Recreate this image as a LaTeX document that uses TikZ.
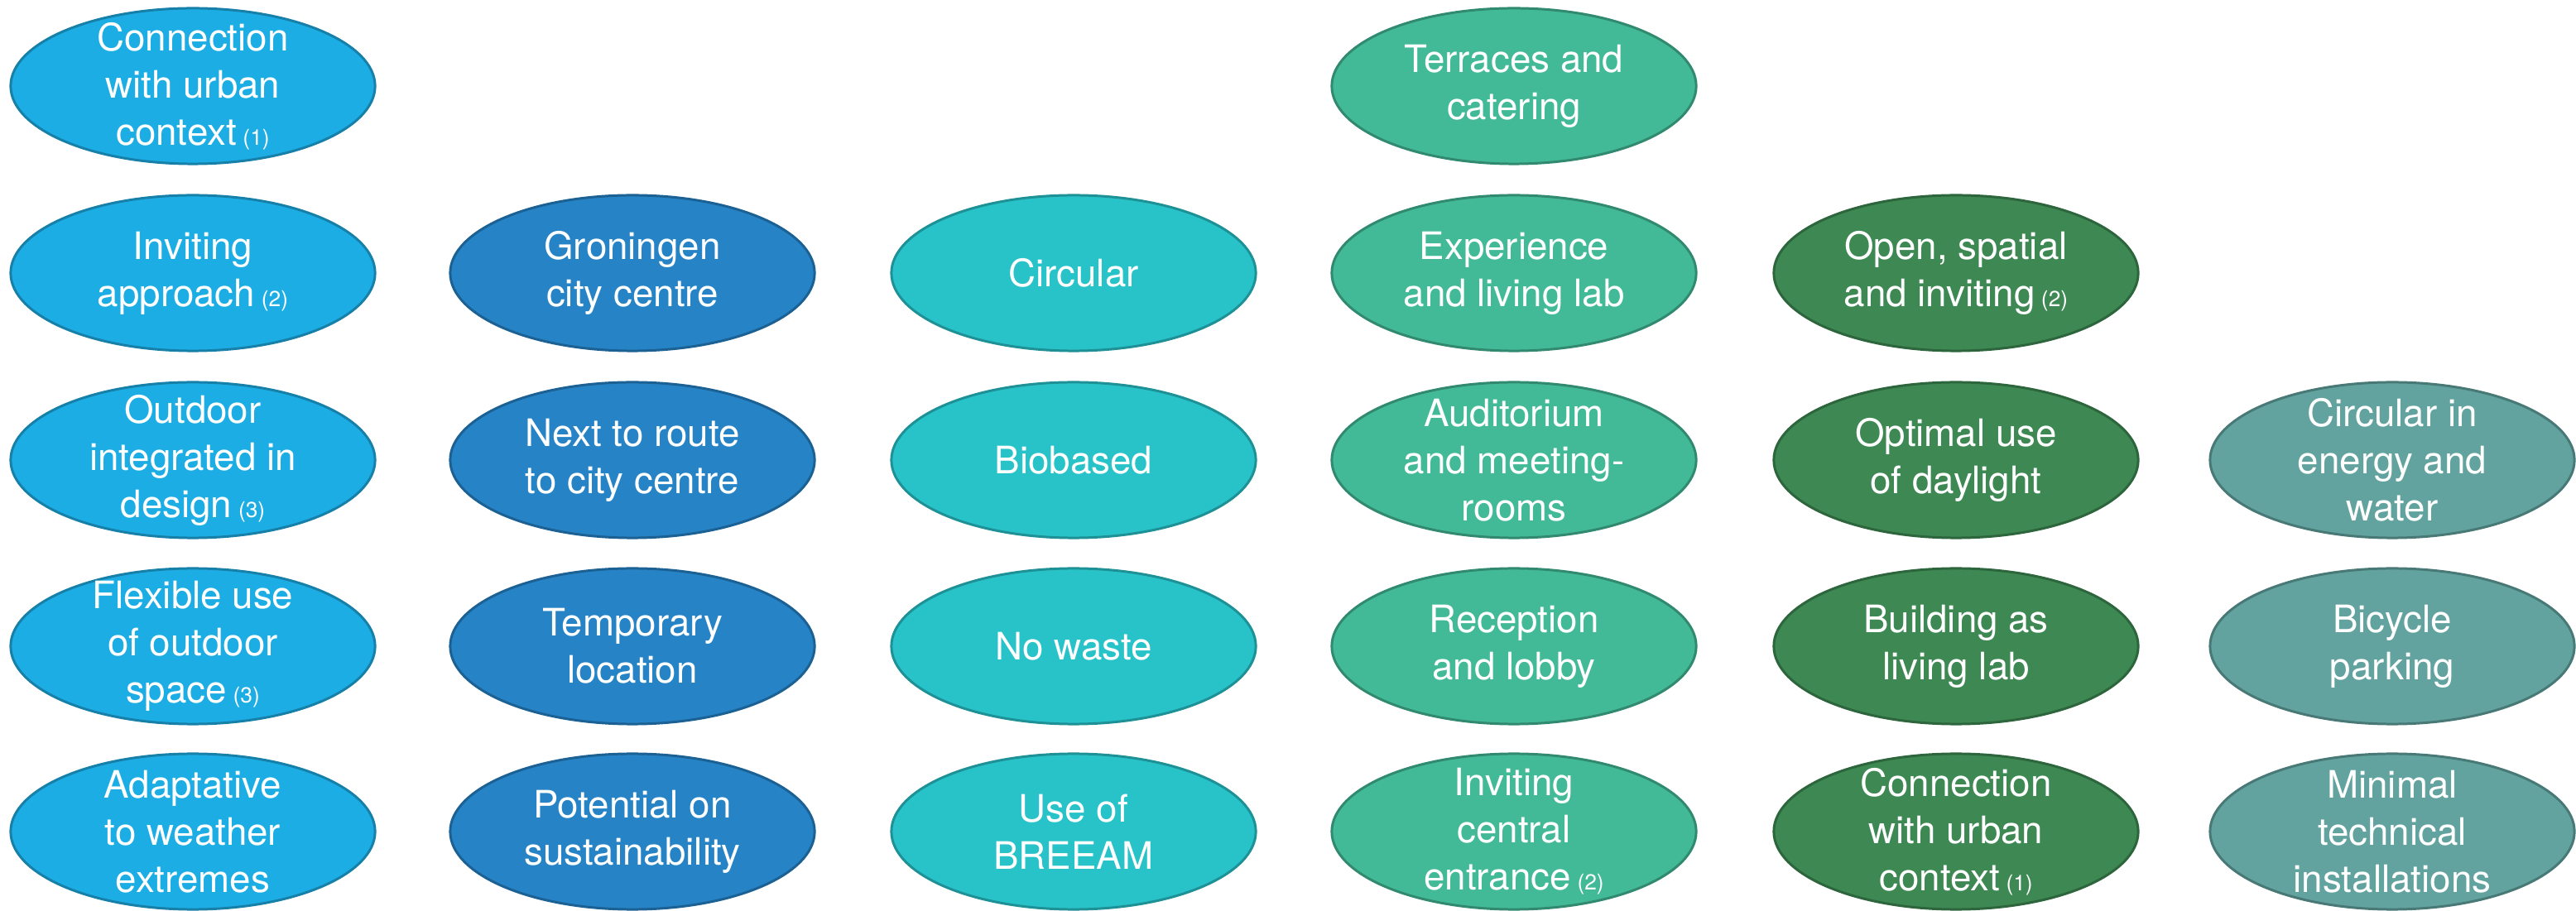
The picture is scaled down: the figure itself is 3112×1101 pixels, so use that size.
\documentclass[tikz,border=0pt]{standalone}
\usepackage{fontspec}
\setmainfont{TeX Gyre Heros}
\usetikzlibrary{shapes.geometric}

\definecolor{blueA}{HTML}{1CADE4}
\definecolor{blueAline}{HTML}{1780A9}
\definecolor{blueB}{HTML}{2683C6}
\definecolor{blueBline}{HTML}{1C6194}
\definecolor{tealC}{HTML}{28C3C9}
\definecolor{tealCline}{HTML}{1D9196}
\definecolor{greenD}{HTML}{42BA97}
\definecolor{greenDline}{HTML}{318A70}
\definecolor{greenE}{HTML}{3E8853}
\definecolor{greenEline}{HTML}{2D653D}
\definecolor{greyF}{HTML}{62A39F}
\definecolor{greyFline}{HTML}{487976}

% small reference number behind a label
\newcommand{\refno}[1]{\,{\fontsize{7.5}{9}\selectfont(#1)}}

\begin{document}
\begin{tikzpicture}[x=0.01cm,y=-0.01cm,
	goal/.style={ellipse,draw,line width=0.85pt,minimum width=4.4cm,minimum height=1.88cm,
		inner sep=-0.15cm,text=white,align=center,font=\fontsize{13}{16.2}\selectfont},
	colA/.style={goal,fill=blueA,draw=blueAline},
	colB/.style={goal,fill=blueB,draw=blueBline},
	colC/.style={goal,fill=tealC,draw=tealCline},
	colD/.style={goal,fill=greenD,draw=greenDline},
	colE/.style={goal,fill=greenE,draw=greenEline},
	colF/.style={goal,fill=greyF,draw=greyFline}]

\useasboundingbox (0,0) rectangle (3112,1101);

% column 1
\node[colA] (urban)    at (233,104)  {Connection\\with urban\\context\refno{1}};
\node[colA] (approach) at (233,330)  {Inviting\\approach\refno{2}};
\node[colA] (outdoor)  at (233,556)  {Outdoor\\integrated in\\design\refno{3}};
\node[colA] (flexible) at (233,781)  {Flexible use\\of outdoor\\space\refno{3}};
\node[colA] (weather)  at (233,1005) {Adaptative\\to weather\\extremes};

% column 2
\node[colB] (groningen) at (764,330)  {Groningen\\city centre};
\node[colB] (route)     at (764,556)  {Next to route\\to city centre};
\node[colB] (temporary) at (764,781)  {Temporary\\location};
\node[colB] (potential) at (764,1005) {Potential on\\sustainability};

% column 3
\node[colC] (circular) at (1297,330)  {Circular};
\node[colC] (biobased) at (1297,556)  {Biobased};
\node[colC] (waste)    at (1297,781)  {No waste};
\node[colC] (breeam)   at (1297,1005) {Use of\\BREEAM};

% column 4
\node[colD] (terraces)   at (1829,104)  {Terraces and\\catering};
\node[colD] (experience) at (1829,330)  {Experience\\and living lab};
\node[colD] (auditorium) at (1829,556)  {Auditorium\\and meeting-\\rooms};
\node[colD] (reception)  at (1829,781)  {Reception\\and lobby};
\node[colD] (entrance)   at (1829,1005) {Inviting\\central\\entrance\refno{2}};

% column 5
\node[colE] (open)      at (2363,330)  {Open, spatial\\and inviting\refno{2}};
\node[colE] (daylight)  at (2363,556)  {Optimal use\\of daylight};
\node[colE] (livinglab) at (2363,781)  {Building as\\living lab};
\node[colE] (context)   at (2363,1005) {Connection\\with urban\\context\refno{1}};

% column 6
\node[colF] (energy)        at (2890,556)  {Circular in\\energy and\\water};
\node[colF] (bicycle)       at (2890,781)  {Bicycle\\parking};
\node[colF] (installations) at (2890,1005) {Minimal\\technical\\installations};

\end{tikzpicture}
\end{document}
